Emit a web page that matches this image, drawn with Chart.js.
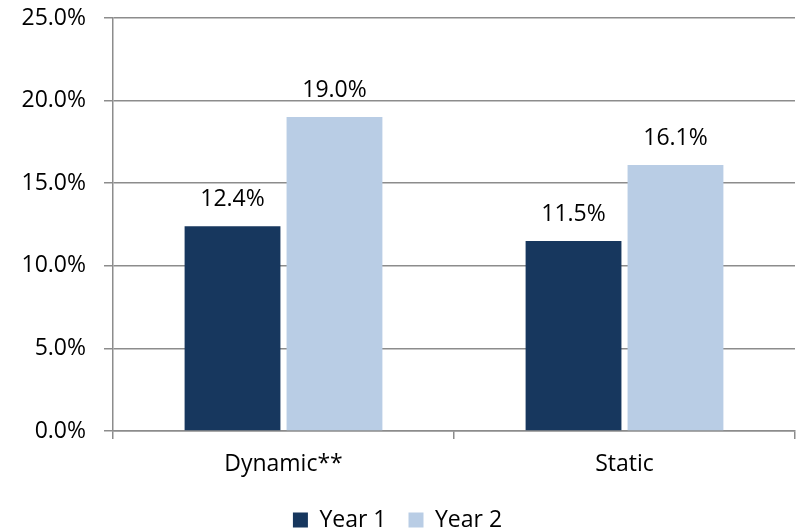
<!DOCTYPE html>
<html>
<head>
<meta charset="utf-8">
<script src="https://cdn.jsdelivr.net/npm/chart.js@4"></script>
<style>
  html, body { margin: 0; padding: 0; background: #fff; }
  #wrap { width: 797px; height: 530px; }
</style>
</head>
<body>
<div id="wrap"><canvas id="barChart" width="797" height="530"></canvas></div>
<script>
const categories = ["Dynamic**", "Static"];
const year1 = [12.4, 11.5];
const year2 = [19.0, 16.1];
const seriesNames = ["Year 1", "Year 2"];
const yTicks = [0, 5, 10, 15, 20, 25];

const FONT = { family: "'Open Sans', sans-serif", size: 23, lineHeight: 1 };
const GRID = "#8c8c8c";

// writes the value above each bar
const valueLabels = {
  id: "valueLabels",
  afterDatasetsDraw(chart) {
    const ctx = chart.ctx;
    ctx.save();
    ctx.font = `${FONT.size}px ${FONT.family}`;
    ctx.fillStyle = "#000";
    ctx.textAlign = "center";
    ctx.textBaseline = "middle";
    chart.data.datasets.forEach((ds, i) => {
      chart.getDatasetMeta(i).data.forEach((bar, j) => {
        ctx.fillText(ds.data[j].toFixed(1) + "%", bar.x, bar.y - 27);
      });
    });
    ctx.restore();
  }
};

new Chart(document.getElementById("barChart"), {
  type: "bar",
  data: {
    labels: categories,
    datasets: [
      { label: seriesNames[0], data: year1, backgroundColor: "#17375e" },
      { label: seriesNames[1], data: year2, backgroundColor: "#b9cde5" }
    ]
  },
  options: {
    responsive: false,
    animation: false,
    layout: { padding: { top: 0, right: 2, left: 0, bottom: -11.5 } },
    datasets: { bar: { categoryPercentage: 0.598, barPercentage: 0.94 } },
    scales: {
      x: {
        afterFit(axis) { axis.height = 55.5; },
        grid: { offset: true, drawOnChartArea: false, color: GRID, lineWidth: 1.5, tickLength: 8 },
        border: { color: GRID, width: 1.5 },
        ticks: { color: "#000", font: FONT, padding: 14 }
      },
      y: {
        min: 0,
        max: 25,
        afterBuildTicks(axis) { axis.ticks = yTicks.map(v => ({ value: v })); },
        afterFit(axis) {
          axis.width = 113;
          axis.paddingTop = 18;
          axis.paddingBottom = 0;
        },
        grid: { color: GRID, lineWidth: 1.5, tickLength: 9 },
        border: { color: GRID, width: 1.5 },
        ticks: { color: "#000", font: FONT, padding: 18, callback: v => v.toFixed(1) + "%" }
      }
    },
    plugins: {
      legend: {
        position: "bottom",
        labels: { color: "#000", font: FONT, boxWidth: 15, boxHeight: 15, padding: 22 }
      },
      tooltip: { enabled: false }
    }
  },
  plugins: [valueLabels]
});
</script>
</body>
</html>
